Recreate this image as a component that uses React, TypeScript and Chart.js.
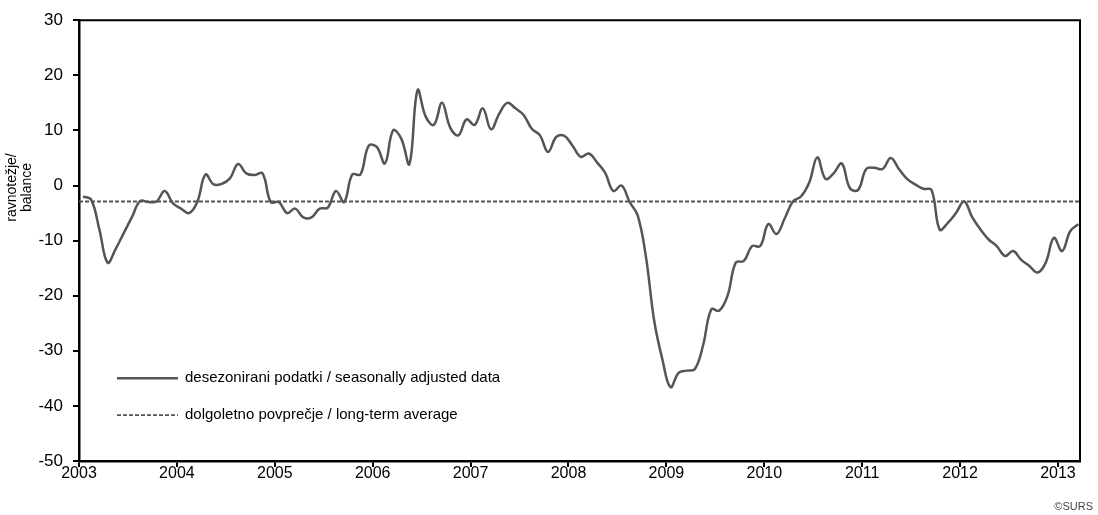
import { useEffect, useRef } from "react";
import { Chart, registerables } from "chart.js";

Chart.register(...registerables);

// ---- data ----
const yearLabels = ["2003", "2004", "2005", "2006", "2007", "2008", "2009", "2010", "2011", "2012", "2013"];

// monthly balances (seasonally adjusted), January .. December
const balance2003 = [-2, -2.6, -8, -14, -11.5, -8.6, -5.7, -2.8, -3, -2.9, -1, -3.2];
const balance2004 = [-4.2, -5, -3, 2, 0.2, 0.3, 1.3, 3.9, 2.2, 1.9, 2.2, -3];
const balance2005 = [-3, -5, -4.2, -5.8, -5.8, -4.2, -4, -1, -3, 2, 2, 7.2];
const balance2006 = [7, 4, 10, 8.5, 3.9, 17.3, 12.5, 11, 15, 10.5, 9.1, 12];
const balance2007 = [11, 14, 10.2, 13, 15, 14, 12.8, 10.3, 9.1, 6.1, 8.8, 9];
const balance2008 = [7.2, 5.2, 5.8, 4.2, 2.3, -1, 0, -3, -5.5, -13, -24.5, -31.5];
const balance2009 = [-36.6, -34, -33.6, -33.3, -29, -22.5, -22.7, -20, -14, -13.7, -11, -11];
const balance2010 = [-7, -8.8, -6, -2.9, -2, 0.5, 5.1, 1.2, 2.2, 4, -0.5, -0.8];
const balance2011 = [3, 3.2, 3, 5, 3, 1.2, 0.2, -0.6, -0.8, -8, -6.8, -5];
const balance2012 = [-2.9, -5.8, -8, -9.8, -11, -12.8, -11.9, -13.5, -14.6, -15.8, -14, -9.5];
const balance2013 = [-11.9, -8.3, -7];

const seasonallyAdjusted = [
  ...balance2003, ...balance2004, ...balance2005, ...balance2006, ...balance2007,
  ...balance2008, ...balance2009, ...balance2010, ...balance2011, ...balance2012, ...balance2013,
];
const longTermAverage = -2.9;

const seriesLabels = [
  "desezonirani podatki / seasonally adjusted data",
  "dolgoletno povprečje / long-term average",
];
const yAxisTitle = ["ravnotežje/", "balance"];
const sourceNote = "©SURS";

const FONT = "'Liberation Sans', Arial, Helvetica, sans-serif";
const LINE_COLOR = "#555555";

export default function App() {
  const canvasRef = useRef<HTMLCanvasElement | null>(null);

  useEffect(() => {
    const canvas = canvasRef.current;
    if (!canvas) return;
    const monthsShown = 122.7;

    const lineData = seasonallyAdjusted.map((v, i) => ({ x: i + 0.5, y: v }));
    const avgData = [
      { x: 0, y: longTermAverage },
      { x: monthsShown, y: longTermAverage },
    ];

    const extras = {
      id: "extras",
      afterDraw(chart: any) {
        const { ctx, chartArea } = chart;
        ctx.save();
        // top & right frame
        ctx.strokeStyle = "#000";
        ctx.lineWidth = 2;
        ctx.beginPath();
        ctx.moveTo(chartArea.left, chartArea.top);
        ctx.lineTo(chartArea.right, chartArea.top);
        ctx.lineTo(chartArea.right, chartArea.bottom);
        ctx.stroke();

        // y-axis title (two lines, rotated)
        ctx.save();
        ctx.translate(20, chart.scales.y.getPixelForValue(0) + 2);
        ctx.rotate(-Math.PI / 2);
        ctx.font = `14px ${FONT}`;
        ctx.fillStyle = "#000";
        ctx.textAlign = "center";
        ctx.textBaseline = "middle";
        ctx.fillText(yAxisTitle[0], 0, -8);
        ctx.fillText(yAxisTitle[1], 0, 7);
        ctx.restore();

        // legend inside plot
        const lx0 = chartArea.left + 38;
        const lx1 = chartArea.left + 99;
        const tx = chartArea.left + 106;
        const rows = [chartArea.top + 358, chartArea.top + 395];
        const dss = chart.data.datasets;
        ctx.font = `15px ${FONT}`;
        ctx.textBaseline = "middle";
        ctx.textAlign = "left";
        rows.forEach((y: number, k: number) => {
          const ds = dss[k];
          ctx.strokeStyle = ds.borderColor;
          ctx.lineWidth = ds.borderWidth;
          ctx.setLineDash(ds.borderDash || []);
          ctx.beginPath();
          ctx.moveTo(lx0, y);
          ctx.lineTo(lx1, y);
          ctx.stroke();
          ctx.setLineDash([]);
          ctx.fillStyle = "#000";
          ctx.fillText(ds.label, tx, y);
        });

        // source note
        ctx.font = `11px ${FONT}`;
        ctx.fillStyle = "#444";
        ctx.textAlign = "right";
        ctx.fillText(sourceNote, chart.width - 5, chart.height - 8);
        ctx.restore();
      },
    };

    const chart = new Chart(canvas, {
      type: "line",
      data: {
        datasets: [
          {
            label: seriesLabels[0],
            data: lineData,
            borderColor: LINE_COLOR,
            borderWidth: 2.5,
            pointRadius: 0,
            tension: 0.4,
            fill: false,
          },
          {
            label: seriesLabels[1],
            data: avgData,
            borderColor: LINE_COLOR,
            borderWidth: 1.8,
            borderDash: [4, 2],
            pointRadius: 0,
            fill: false,
          },
        ],
      },
      options: {
        animation: false,
        responsive: false,
        maintainAspectRatio: false,
        layout: { padding: { top: 19, right: 18, left: 0, bottom: 0 } },
        plugins: { legend: { display: false }, tooltip: { enabled: false } },
        scales: {
          x: {
            type: "linear",
            min: 0,
            max: monthsShown,
            afterBuildTicks: (s: any) => {
              s.ticks = yearLabels.map((_, k) => ({ value: k * 12 }));
            },
            ticks: {
              callback: (v: any) => yearLabels[Math.round(Number(v) / 12)],
              font: { family: FONT, size: 16 },
              color: "#000",
              padding: -3,
              maxRotation: 0,
              autoSkip: false,
            },
            grid: { drawOnChartArea: false, drawTicks: true, tickLength: 6, color: "#000", lineWidth: 2 },
            border: { display: true, color: "#000", width: 2.5 },
            afterFit: (s: any) => {
              s.height = 54;
            },
          },
          y: {
            min: -50,
            max: 30,
            ticks: {
              stepSize: 10,
              font: { family: FONT, size: 17 },
              color: "#000",
              padding: 10,
            },
            grid: { drawOnChartArea: false, drawTicks: true, tickLength: 6, color: "#000", lineWidth: 2 },
            border: { display: true, color: "#000", width: 2.5 },
            afterFit: (s: any) => {
              s.width = 79;
            },
          },
        },
      },
      plugins: [extras],
    });

    return () => chart.destroy();
  }, []);

  return (
    <div style={{ position: "absolute", left: 0, top: 0, width: 1098, height: 515, background: "#fff" }}>
      <canvas ref={canvasRef} width={1098} height={515} style={{ display: "block" }} />
    </div>
  );
}
